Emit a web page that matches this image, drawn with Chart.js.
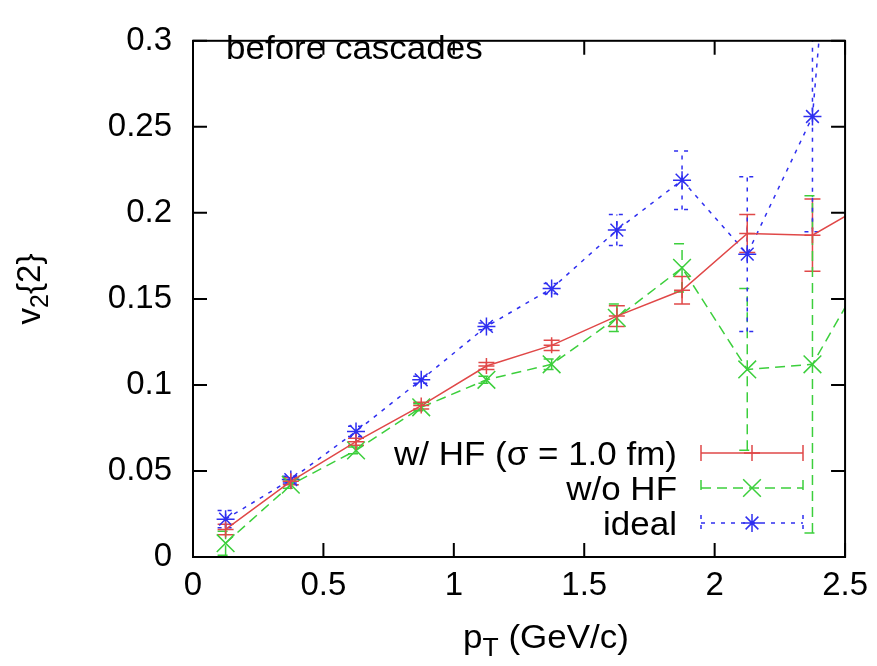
<!DOCTYPE html>
<html>
<head>
<meta charset="utf-8">
<script src="https://cdn.jsdelivr.net/npm/chart.js@4"></script>
<style>
  body { margin: 0; background: #fff; }
  #wrap { width: 877px; height: 666px; position: relative; }
</style>
</head>
<body>
<div id="wrap"><canvas id="v2Chart"></canvas></div>
<script>
// pT bin centres (GeV/c); the last bin sits past the axis end, only its segment shows
const ptBins = [0.125, 0.375, 0.625, 0.875, 1.125, 1.375, 1.625, 1.875, 2.125, 2.375, 2.625];

const withHF    = [0.016, 0.044, 0.067, 0.088, 0.111, 0.123, 0.140, 0.155, 0.188, 0.187, 0.209];
const withHFErr = [0.003, 0.002, 0.002, 0.002, 0.002, 0.003, 0.006, 0.008, 0.011, 0.021, 0.025];

const noHF    = [0.008, 0.042, 0.062, 0.087, 0.103, 0.112, 0.139, 0.168, 0.109, 0.112, 0.178];
const noHFErr = [0.007, 0.002, 0.002, 0.002, 0.002, 0.003, 0.008, 0.014, 0.047, 0.098, 0.100];

const ideal    = [0.022, 0.045, 0.073, 0.103, 0.134, 0.156, 0.190, 0.219, 0.176, 0.256, 0.700];
const idealErr = [0.005, 0.002, 0.003, 0.002, 0.002, 0.003, 0.009, 0.017, 0.045, 0.067, 0.200];

const xTicks = [0, 0.5, 1, 1.5, 2, 2.5];
const yTicks = [0, 0.05, 0.1, 0.15, 0.2, 0.25, 0.3];

const FONT = '"Liberation Sans", Arial, Helvetica, sans-serif';
const FONT_SIZE = 33;
const STRETCH = 1.06; // reference lettering is a little wider than Liberation Sans

const series = [
  { label: 'w/ HF (σ = 1.0 fm)', values: withHF, errors: withHFErr, color: '#e04848', dash: [], marker: 'cross', radius: 8 },
  { label: 'w/o HF', values: noHF, errors: noHFErr, color: '#3ccf3c', dash: [10, 6], marker: 'crossRot', radius: 12.5 },
  { label: 'ideal', values: ideal, errors: idealErr, color: '#2f2ff0', dash: [4, 6], marker: 'star', radius: 9 },
];

const toPoints = (ys) => ptBins.map((x, i) => ({ x: x, y: ys[i] }));

function drawMarker(ctx, type, x, y, r) {
  ctx.beginPath();
  if (type === 'cross' || type === 'star') {
    ctx.moveTo(x - r, y); ctx.lineTo(x + r, y);
    ctx.moveTo(x, y - r); ctx.lineTo(x, y + r);
  }
  if (type === 'crossRot' || type === 'star') {
    const d = r * Math.SQRT1_2;
    ctx.moveTo(x - d, y - d); ctx.lineTo(x + d, y + d);
    ctx.moveTo(x - d, y + d); ctx.lineTo(x + d, y - d);
  }
  ctx.stroke();
}

// draw text stretched horizontally, anchored at x with given alignment
function wideText(ctx, text, x, y, align) {
  const w = ctx.measureText(text).width * STRETCH;
  let left = x;
  if (align === 'right') left = x - w;
  if (align === 'center') left = x - w / 2;
  ctx.save();
  ctx.translate(left, y);
  ctx.scale(STRETCH, 1);
  ctx.textAlign = 'left';
  ctx.fillText(text, 0, 0);
  ctx.restore();
  return w;
}

const errorBars = {
  id: 'errorBars',
  beforeDatasetsDraw(chart) {
    const { ctx, chartArea, scales } = chart;
    ctx.save();
    ctx.beginPath();
    ctx.rect(chartArea.left, chartArea.top, chartArea.right - chartArea.left, chartArea.bottom - chartArea.top);
    ctx.clip();
    series.forEach((s) => {
      ctx.strokeStyle = s.color;
      ctx.lineWidth = 1.5;
      ctx.setLineDash(s.dash);
      s.values.forEach((v, i) => {
        const x = scales.x.getPixelForValue(ptBins[i]);
        const lo = scales.y.getPixelForValue(v - s.errors[i]);
        const hi = scales.y.getPixelForValue(v + s.errors[i]);
        ctx.beginPath();
        ctx.moveTo(x, lo); ctx.lineTo(x, hi);
        ctx.moveTo(x - 8, lo); ctx.lineTo(x + 8, lo);
        ctx.moveTo(x - 8, hi); ctx.lineTo(x + 8, hi);
        ctx.stroke();
      });
    });
    ctx.restore();
  }
};

const frameAndText = {
  id: 'frameAndText',
  afterDraw(chart) {
    const { ctx, chartArea: a, scales } = chart;
    ctx.save();
    ctx.setLineDash([]);
    ctx.strokeStyle = '#000';
    ctx.lineWidth = 2;
    ctx.strokeRect(a.left, a.top, a.right - a.left, a.bottom - a.top);

    // inward tick marks on all four sides
    const tl = 14;
    ctx.beginPath();
    xTicks.forEach((t) => {
      const x = scales.x.getPixelForValue(t);
      ctx.moveTo(x, a.bottom); ctx.lineTo(x, a.bottom - tl);
      ctx.moveTo(x, a.top); ctx.lineTo(x, a.top + tl);
    });
    yTicks.forEach((t) => {
      const y = scales.y.getPixelForValue(t);
      ctx.moveTo(a.left, y); ctx.lineTo(a.left + tl, y);
      ctx.moveTo(a.right, y); ctx.lineTo(a.right - tl, y);
    });
    ctx.stroke();

    const big = FONT_SIZE + 'px ' + FONT;
    const small = Math.round(FONT_SIZE * 0.75) + 'px ' + FONT;

    ctx.fillStyle = '#000';
    ctx.textBaseline = 'alphabetic';
    ctx.font = big;
    wideText(ctx, 'before cascades', 226, 59, 'left');

    // legend, text right aligned with errorbar samples
    const rows = [453, 488, 523];
    series.forEach((s, i) => {
      const y = rows[i];
      ctx.fillStyle = '#000';
      ctx.font = big;
      wideText(ctx, s.label, 677, y + 12, 'right');
      ctx.strokeStyle = s.color;
      ctx.lineWidth = 1.5;
      ctx.setLineDash(s.dash);
      ctx.beginPath();
      ctx.moveTo(701, y); ctx.lineTo(803, y);
      ctx.moveTo(701, y - 8); ctx.lineTo(701, y + 8);
      ctx.moveTo(803, y - 8); ctx.lineTo(803, y + 8);
      ctx.stroke();
      ctx.setLineDash([]);
      drawMarker(ctx, s.marker, 752, y, s.radius);
    });

    // x title: p_T (GeV/c)
    ctx.setLineDash([]);
    ctx.fillStyle = '#000';
    ctx.font = big;
    const wp = ctx.measureText('p').width * STRETCH;
    const wr = ctx.measureText(' (GeV/c)').width * STRETCH;
    ctx.font = small;
    const wt = ctx.measureText('T').width * STRETCH;
    let x0 = 546 - (wp + wt + wr) / 2;
    const base = 648;
    ctx.font = big; wideText(ctx, 'p', x0, base, 'left');
    ctx.font = small; wideText(ctx, 'T', x0 + wp, base + 8, 'left');
    ctx.font = big; wideText(ctx, ' (GeV/c)', x0 + wp + wt, base, 'left');

    // y title: v_2{2}, rotated
    ctx.translate(40, 289);
    ctx.rotate(-Math.PI / 2);
    ctx.font = big;
    const wv = ctx.measureText('v').width;
    const wb = ctx.measureText('{2}').width;
    ctx.font = small;
    const w2 = ctx.measureText('2').width;
    x0 = -(wv + w2 + wb) / 2;
    ctx.font = big; ctx.fillText('v', x0, 0);
    ctx.font = small; ctx.fillText('2', x0 + wv, 8);
    ctx.font = big; ctx.fillText('{2}', x0 + wv + w2, 0);
    ctx.restore();
  }
};

const datasets = series.map((s) => ({
  label: s.label,
  data: toPoints(s.values),
  showLine: true,
  borderColor: s.color,
  borderWidth: 1.5,
  borderDash: s.dash,
  tension: 0,
  pointStyle: s.marker,
  pointRadius: s.radius,
  pointBorderWidth: 1.5,
  pointBorderColor: s.color,
  pointBackgroundColor: s.color,
}));

const plainNumber = (value) => String(+Number(value).toFixed(2));

new Chart(document.getElementById('v2Chart'), {
  type: 'scatter',
  data: { datasets: datasets },
  plugins: [errorBars, frameAndText],
  options: {
    responsive: true,
    maintainAspectRatio: false,
    animation: false,
    events: [],
    layout: { padding: { top: 21, right: 31, left: 0, bottom: 0 } },
    plugins: { legend: { display: false }, tooltip: { enabled: false } },
    scales: {
      x: {
        type: 'linear',
        min: 0,
        max: 2.5,
        afterFit: (scale) => { scale.height = 109; },
        afterBuildTicks: (scale) => { scale.ticks = xTicks.map((v) => ({ value: v })); },
        grid: { display: false, drawTicks: false },
        border: { display: false },
        ticks: { color: '#000', padding: 9, callback: plainNumber, font: { family: FONT, size: FONT_SIZE } },
      },
      y: {
        type: 'linear',
        min: 0,
        max: 0.3,
        afterFit: (scale) => { scale.width = 193; },
        afterBuildTicks: (scale) => { scale.ticks = yTicks.map((v) => ({ value: v })); },
        grid: { display: false, drawTicks: false },
        border: { display: false },
        ticks: { color: '#000', padding: 21, callback: plainNumber, font: { family: FONT, size: FONT_SIZE } },
      },
    },
  },
});
</script>
</body>
</html>
